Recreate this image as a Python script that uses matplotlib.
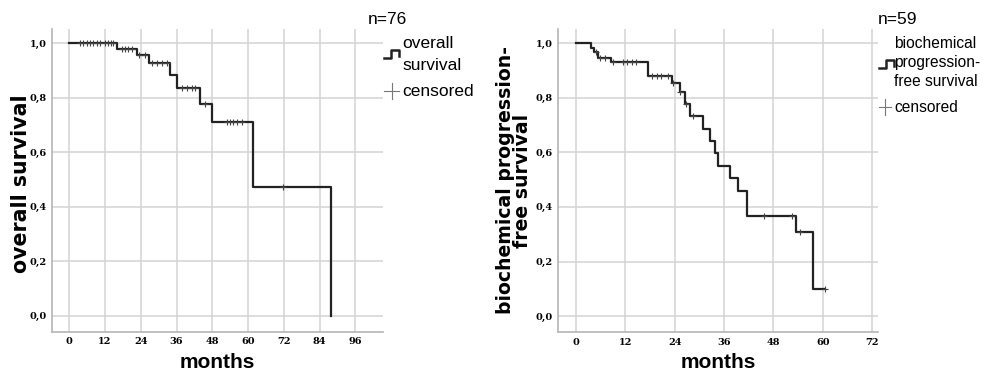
import numpy as np
import matplotlib
matplotlib.use("Agg")
import matplotlib.pyplot as plt
from matplotlib.lines import Line2D

# overall survival (n=76)
os_times = [0, 16, 22.8, 26.8, 33.8, 36, 43.9, 48, 61.8, 87.8]
os_surv = [1.0, 0.978, 0.958, 0.927, 0.884, 0.837, 0.776, 0.713, 0.473, 0.0]
os_cens = [3.6, 4.6, 5.9, 6.9, 7.9, 9.3, 10.3, 12, 13, 14, 14.7,
           17.6, 18.7, 19.8, 20.9, 23.5, 25.4, 27.6, 29.4, 31.1, 32.7,
           37.7, 39.4, 41.1, 42.2, 45.7, 52.8, 54, 55.1, 56.2, 57.9, 71.8]

# biochemical progression-free survival (n=59)
bp_times = [0, 3.6, 4.3, 5.4, 8.4, 17.5, 23.3, 25.3, 26.5, 27.7, 30.8, 32.6,
            33.8, 34.6, 37.4, 39.4, 41.5, 53.4, 57.6]
bp_surv = [1.0, 0.982, 0.966, 0.947, 0.93, 0.88, 0.853, 0.823, 0.778, 0.733,
           0.687, 0.643, 0.597, 0.55, 0.505, 0.458, 0.367, 0.307, 0.101]
bp_cens = [4.9, 5.8, 7.0, 9.1, 11.5, 12.5, 13.5, 14.5, 18.4, 19.6, 20.6, 22.4,
           23.6, 25.4, 26.7, 28.5, 45.6, 52.6, 54.4, 60.5]

grid_c = "#d3d3d3"
spine_c = "#b5b5b5"
line_c = "#222222"
narrow = ["Liberation Sans Narrow", "Liberation Sans", "DejaVu Sans"]


def surv_at(times, surv, t):
    i = np.searchsorted(times, t, side="right") - 1
    return surv[i]


def km_panel(ax, times, surv, cens, xmax, xlim):
    times = np.array(times, dtype=float)
    surv = np.array(surv, dtype=float)
    x = list(times)
    y = list(surv)
    if max(cens) > times[-1]:
        x.append(max(cens))
        y.append(surv[-1])
    ax.step(x, y, where="post", color=line_c, lw=1.6, zorder=3)
    cy = [surv_at(times, surv, c) for c in cens]
    ax.plot(cens, cy, ls="none", marker="+", ms=5, mew=0.8, color="#444444", zorder=4)
    ax.set_xlim(*xlim)
    ax.set_ylim(-0.058, 1.052)
    ax.set_xticks(np.arange(0, xmax + 1, 12))
    ax.set_yticks(np.arange(0, 1.01, 0.2))
    ax.set_yticklabels([f"{v:.1f}".replace(".", ",") for v in np.arange(0, 1.01, 0.2)])
    ax.grid(True, color=grid_c, lw=1.1)
    ax.set_axisbelow(True)
    for s in ["top", "right"]:
        ax.spines[s].set_visible(False)
    for s in ["left", "bottom"]:
        ax.spines[s].set_color(spine_c)
        ax.spines[s].set_linewidth(1.2)
    ax.tick_params(length=0, pad=4)
    for lab in ax.get_xticklabels() + ax.get_yticklabels():
        lab.set_family("DejaVu Serif")
        lab.set_fontweight("bold")
        lab.set_fontsize(7)
    ax.set_xlabel("months", fontsize=15, fontweight="bold", family="Liberation Sans", labelpad=5)


fig = plt.figure(figsize=(9.84, 3.75), dpi=100)
W, H = 984, 375

ax1 = fig.add_axes([52.3 / W, 1 - 331.7 / H, 330.4 / W, 302.4 / H])
km_panel(ax1, os_times, os_surv, os_cens, 96, (-5.7, 105.2))
ax1.set_ylabel("overall survival", fontsize=14.8, fontweight="bold", family="DejaVu Sans")
ax1.yaxis.set_label_coords(-0.064, 0.49)

ax2 = fig.add_axes([558 / W, 1 - 332 / H, 320.3 / W, 303 / H])
km_panel(ax2, bp_times, bp_surv, bp_cens, 72, (-4.37, 73.5))
ax2.set_ylabel("biochemical progression-\nfree survival", fontsize=13.6, fontweight="bold",
               family="DejaVu Sans", linespacing=0.92)
ax2.yaxis.set_label_coords(-0.08, 0.5)


# legends drawn by hand (figure pixel coords)
def px(x, y):
    return x / W, 1 - y / H


def add_line(xs, ys, **kw):
    pts = [px(a, b) for a, b in zip(xs, ys)]
    fig.lines.append(Line2D([p[0] for p in pts], [p[1] for p in pts],
                            transform=fig.transFigure, **kw))


def step_handle(x0, y0):
    add_line([x0, x0 + 7, x0 + 7, x0 + 15, x0 + 15],
             [y0 + 4, y0 + 4, y0 - 4, y0 - 4, y0 + 2], color=line_c, lw=1.8)


def cens_handle(x0, y0, w=15):
    add_line([x0, x0 + w], [y0, y0], color="#777777", lw=0.8)
    add_line([x0 + w / 2, x0 + w / 2], [y0 - 8, y0 + 8], color="#777777", lw=0.8)


fs = 12.5
fig.text(*px(368, 20), "n=76", fontsize=fs, family=narrow, va="center")
fig.text(*px(402, 43), "overall", fontsize=fs, family=narrow, va="center")
fig.text(*px(402, 66), "survival", fontsize=fs, family=narrow, va="center")
fig.text(*px(402, 91), "censored", fontsize=fs, family=narrow, va="center")
step_handle(384, 54)
cens_handle(384, 91)

fs2 = 11.2
fig.text(*px(878, 20), "n=59", fontsize=fs, family=narrow, va="center")
fig.text(*px(894, 43), "biochemical", fontsize=fs2, family=narrow, va="center")
fig.text(*px(894, 63), "progression-", fontsize=fs2, family=narrow, va="center")
fig.text(*px(894, 81), "free survival", fontsize=fs2, family=narrow, va="center")
fig.text(*px(894, 107), "censored", fontsize=fs2, family=narrow, va="center")
step_handle(879, 64)
cens_handle(879, 107, w=12)

fig.savefig("out.png", dpi=100)
